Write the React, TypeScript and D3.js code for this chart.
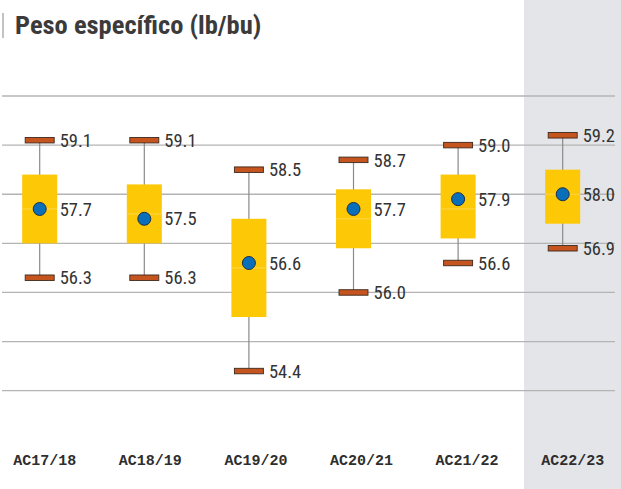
import React from 'react';
import * as d3 from 'd3';

// Data
const categories = ['AC17/18', 'AC18/19', 'AC19/20', 'AC20/21', 'AC21/22', 'AC22/23'];
const maxValues = [59.1, 59.1, 58.5, 58.7, 59.0, 59.2];
const q3Values = [58.4, 58.2, 57.5, 58.1, 58.4, 58.5];
const medianValues = [57.7, 57.6, 56.5, 57.5, 57.7, 58.0];
const meanValues = [57.7, 57.5, 56.6, 57.7, 57.9, 58.0];
const q1Values = [57.0, 57.0, 55.5, 56.9, 57.1, 57.4];
const minValues = [56.3, 56.3, 54.4, 56.0, 56.6, 56.9];
const gridTicks = [54, 55, 56, 57, 58, 59, 60];

const W = 621;
const H = 489;

const App = () => {
  // y scale: 60 -> 96px, 54 -> 390.7px
  const y = d3.scaleLinear().domain([54, 60]).range([390.7, 96]);
  // box centres
  const x = d3.scalePoint<string>().domain(categories).range([39.7, 562.7]);
  // axis labels sit slightly to the right of the boxes
  const xLabel = d3.scalePoint<string>().domain(categories).range([44.7, 572.7]);

  const boxW = 35;
  const capW = 29;
  const capH = 5.5;
  const valueFont = "'Liberation Sans Narrow', 'Roboto Condensed', 'Arial Narrow', 'Liberation Sans', sans-serif";

  return (
    <svg width={W} height={H} style={{ position: 'absolute', left: 0, top: 0 }}>
      <rect x={0} y={0} width={W} height={H} fill="#ffffff" />
      {/* highlighted last season */}
      <rect x={524} y={0} width={W - 524} height={H} fill="#e4e5e8" />

      {/* title */}
      <line x1={3} x2={3} y1={13} y2={38} stroke="#9a9a9a" strokeWidth={1.2} />
      <text
        x={15}
        y={33.5}
        fontFamily="'Liberation Sans Narrow', 'Roboto Condensed', 'Liberation Sans', sans-serif"
        fontWeight="bold"
        fontSize={26.5}
        fill="#3b3b3b"
      >
        Peso específico (lb/bu)
      </text>

      {/* gridlines */}
      {gridTicks.map((t) => (
        <line key={t} x1={2} x2={615} y1={y(t)} y2={y(t)} stroke="#b4b4b4" strokeWidth={1.3} />
      ))}

      {categories.map((c, i) => {
        const cx = x(c) as number;
        return (
          <g key={c}>
            {/* whisker */}
            <line x1={cx} x2={cx} y1={y(maxValues[i])} y2={y(minValues[i])} stroke="#8a8a8a" strokeWidth={1.2} />
            {/* box */}
            <rect
              x={cx - boxW / 2}
              y={y(q3Values[i])}
              width={boxW}
              height={y(q1Values[i]) - y(q3Values[i])}
              fill="#fdc806"
            />
            <line
              x1={cx - boxW / 2}
              x2={cx + boxW / 2}
              y1={y(medianValues[i])}
              y2={y(medianValues[i])}
              stroke="#fed64a"
              strokeWidth={1}
            />
            {/* caps */}
            <rect x={cx - capW / 2} y={y(maxValues[i]) - capH / 2} width={capW} height={capH} fill="#c5541f" stroke="#3d2a1e" strokeWidth={0.9} />
            <rect x={cx - capW / 2} y={y(minValues[i]) - capH / 2} width={capW} height={capH} fill="#c5541f" stroke="#3d2a1e" strokeWidth={0.9} />
            {/* mean */}
            <circle cx={cx} cy={y(meanValues[i])} r={6.5} fill="#0a6fbb" stroke="#1b2f4a" strokeWidth={1} />
            {/* value labels */}
            {[maxValues[i], meanValues[i], minValues[i]].map((v, k) => (
              <text
                key={k}
                x={cx + 20}
                y={y(v)}
                dy="0.36em"
                fontFamily={valueFont}
                fontSize={18.5}
                fill="#333333"
              >
                {v.toFixed(1)}
              </text>
            ))}
            {/* category label */}
            <text
              x={xLabel(c) as number}
              y={465}
              textAnchor="middle"
              fontFamily="'Liberation Mono', 'DejaVu Sans Mono', monospace"
              fontWeight="bold"
              fontSize={15}
              fill="#2e2e2e"
            >
              {c}
            </text>
          </g>
        );
      })}
    </svg>
  );
};

export default App;
